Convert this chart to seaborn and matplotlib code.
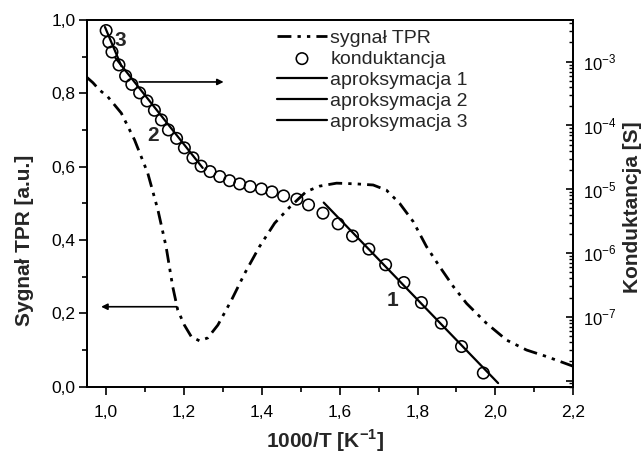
import math
import matplotlib
matplotlib.use("Agg")
import matplotlib.pyplot as plt
import seaborn as sns
from matplotlib.ticker import MultipleLocator, LogLocator, FuncFormatter, NullFormatter

# --- TPR signal (left axis, a.u.) ---
tpr_x = [0.949, 0.966, 0.983, 1.004, 1.039, 1.073, 1.107, 1.133, 1.154, 1.171,
         1.184, 1.201, 1.219, 1.240, 1.261, 1.287, 1.322, 1.356, 1.394, 1.433,
         1.472, 1.514, 1.549, 1.592, 1.643, 1.686, 1.720, 1.754, 1.789, 1.823,
         1.857, 1.892, 1.926, 1.977, 2.029, 2.080, 2.132, 2.199]
tpr_y = [0.845, 0.829, 0.809, 0.791, 0.746, 0.673, 0.582, 0.482, 0.382, 0.273,
         0.209, 0.168, 0.136, 0.125, 0.133, 0.168, 0.236, 0.309, 0.382, 0.446,
         0.490, 0.532, 0.547, 0.555, 0.553, 0.550, 0.536, 0.500, 0.450, 0.382,
         0.327, 0.273, 0.227, 0.173, 0.127, 0.100, 0.082, 0.056]

# --- conductance (right axis, S) ---
cond_x = [1.000, 1.007, 1.015, 1.033, 1.050, 1.066, 1.086, 1.105, 1.124, 1.142,
          1.160, 1.181, 1.201, 1.223, 1.244, 1.267, 1.292, 1.317, 1.343, 1.370,
          1.399, 1.426, 1.456, 1.490, 1.520, 1.557, 1.596, 1.633, 1.675, 1.718,
          1.765, 1.810, 1.861, 1.913, 1.969]
cond_s = [3.08e-3, 2.04e-3, 1.42e-3, 8.9e-4, 5.97e-4, 4.40e-4, 3.24e-4, 2.42e-4, 1.73e-4, 1.22e-4,
          8.5e-5, 6.27e-5, 4.45e-5, 3.10e-5, 2.30e-5, 1.89e-5, 1.58e-5, 1.36e-5, 1.21e-5, 1.10e-5,
          1.01e-5, 9.08e-6, 7.85e-6, 6.98e-6, 5.68e-6, 4.21e-6, 2.86e-6, 1.85e-6, 1.15e-6, 6.52e-7,
          3.44e-7, 1.67e-7, 7.94e-8, 3.41e-8, 1.31e-8]

# --- Arrhenius fits (segment ends) ---
fit1_x = [1.559, 2.007]
fit1_s = [6.17e-6, 9.1e-9]
fit2_x = [1.024, 1.248]
fit2_s = [1.14e-3, 2.16e-5]
fit3_x = [0.997, 1.039]
fit3_s = [3.50e-3, 8.57e-4]

legend_labels = ["sygnał TPR", "konduktancja", "aproksymacja 1",
                 "aproksymacja 2", "aproksymacja 3"]
x_label = "1000/T [K$^{\\mathbf{-1}}$]"
y_label_left = "Sygnał TPR [a.u.]"
y_label_right = "Konduktancja [S]"

sns.set_theme(style="ticks")
plt.rcParams["font.family"] = ["Liberation Sans", "DejaVu Sans"]
plt.rcParams["mathtext.fontset"] = "custom"
plt.rcParams["mathtext.rm"] = "Liberation Sans"
plt.rcParams["mathtext.bf"] = "Liberation Sans:bold"
plt.rcParams["axes.linewidth"] = 1.3
plt.rcParams["axes.edgecolor"] = "black"
plt.rcParams["xtick.color"] = "black"
plt.rcParams["ytick.color"] = "black"

fig = plt.figure(figsize=(6.42, 4.53), dpi=100)
ax = fig.add_axes([0.1350, 0.1464, 0.7579, 0.8095])
ax2 = ax.twinx()

# left axis: TPR signal
sns.lineplot(x=tpr_x, y=tpr_y, ax=ax, color="black", lw=2.0, estimator=None,
             sort=False, linestyle=(0, (5, 2.2, 1.2, 2.2, 1.2, 2.2)))
ax.set_xlim(0.95, 2.2)
ax.set_ylim(0.0, 1.0)
ax.xaxis.set_major_locator(MultipleLocator(0.2))
ax.xaxis.set_minor_locator(MultipleLocator(0.1))
ax.yaxis.set_major_locator(MultipleLocator(0.2))
ax.yaxis.set_minor_locator(MultipleLocator(0.1))
comma = FuncFormatter(lambda v, p: f"{v:.1f}".replace(".", ","))
ax.xaxis.set_major_formatter(comma)
ax.yaxis.set_major_formatter(comma)
ax.tick_params(axis="both", which="major", direction="out", length=6, width=1.2,
               labelsize=12.5, pad=2)
ax.tick_params(axis="both", which="minor", direction="out", length=3.5, width=1.2)
ax.tick_params(axis="x", which="major", pad=7)
ax.tick_params(axis="y", which="both", right=False)
ax.tick_params(axis="x", which="both", top=False)

# right axis: conductance, log scale
ax2.set_yscale("log")
ax2.set_ylim(8.0e-9, 4.51e-3)
sns.scatterplot(x=cond_x, y=cond_s, ax=ax2, marker="o", s=68, facecolor="none",
                edgecolor="black", linewidth=1.15, zorder=3)
fit_lines = []
for fx, fs in [(fit1_x, fit1_s), (fit2_x, fit2_s), (fit3_x, fit3_s)]:
    sns.lineplot(x=fx, y=fs, ax=ax2, color="black", lw=1.6, estimator=None)
    fit_lines.append(ax2.get_lines()[-1])

ax2.yaxis.set_major_locator(LogLocator(base=10, numticks=20))
ax2.yaxis.set_minor_locator(LogLocator(base=10, subs=range(2, 10), numticks=20))
ax2.yaxis.set_minor_formatter(NullFormatter())


def decade(v, p):
    e = int(round(math.log10(v)))
    if -7 <= e <= -3:
        return f"10$^{{{e}}}$"
    return ""


ax2.yaxis.set_major_formatter(FuncFormatter(decade))
ax2.tick_params(axis="y", which="major", direction="in", length=5, width=1.2,
                labelsize=12, pad=7)
ax2.tick_params(axis="y", which="minor", direction="in", length=3, width=1.0)
ax2.set_xlim(0.95, 2.2)

# axis titles
ax.set_xlabel(x_label, fontsize=15, fontweight="bold")
ax.xaxis.set_label_coords(0.49, -0.112)
ax.set_ylabel(y_label_left, fontsize=15, fontweight="bold")
ax.yaxis.set_label_coords(-0.108, 0.40)
ax2.set_ylabel(y_label_right, fontsize=15, fontweight="bold")
ax2.yaxis.set_label_coords(1.102, 0.49)

# curve numbers and axis arrows
for tx, ty, s in [(1.736, 0.236, "1"), (1.120, 0.686, "2"), (1.037, 0.945, "3")]:
    ax.text(tx, ty, s, fontsize=15, fontweight="bold", ha="center", va="center")
ax.annotate("", xy=(1.309, 0.831), xytext=(1.078, 0.831),
            arrowprops=dict(arrowstyle="-|>", color="black", lw=1.2, mutation_scale=9))
ax.annotate("", xy=(0.980, 0.218), xytext=(1.189, 0.218),
            arrowprops=dict(arrowstyle="-|>", color="black", lw=1.2, mutation_scale=9))

# legend
tpr_handle = ax.get_lines()[0]
cond_handle = ax2.collections[0]
leg = ax2.legend([tpr_handle, cond_handle] + fit_lines, legend_labels,
                 loc="upper left", bbox_to_anchor=(0.431, 0.936),
                 bbox_transform=fig.transFigure, frameon=False, fontsize=14,
                 handlelength=2.6, handletextpad=0.15, labelspacing=0.18,
                 borderpad=0, borderaxespad=0, scatterpoints=1)

fig.savefig("out.png", dpi=100)
